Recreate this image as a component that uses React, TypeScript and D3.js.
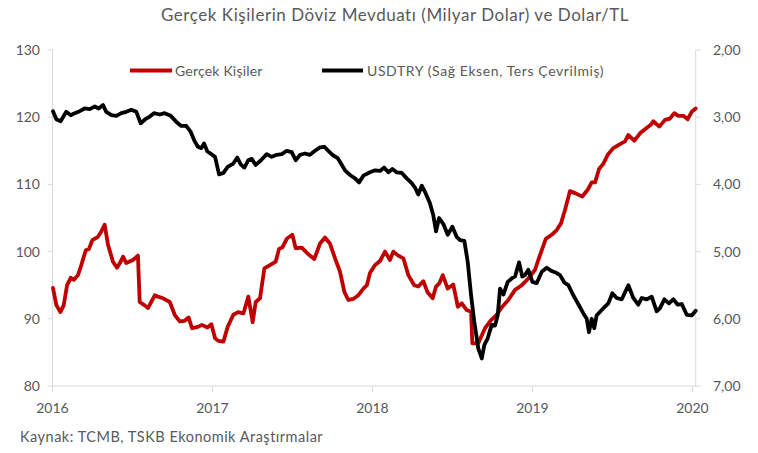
import React from "react";
import * as d3 from "d3";

const TITLE = "Gerçek Kişilerin Döviz Mevduatı (Milyar Dolar) ve Dolar/TL";
const SOURCE = "Kaynak: TCMB, TSKB Ekonomik Araştırmalar";
const SERIES_NAMES = ["Gerçek Kişiler", "USDTRY (Sağ Eksen, Ters Çevrilmiş)"];
const YEAR_TICKS = [2016, 2017, 2018, 2019, 2020];
const LEFT_TICKS = [80, 90, 100, 110, 120, 130];
const RIGHT_TICKS = [2, 3, 4, 5, 6, 7];

// Gerçek Kişiler döviz mevduatı (milyar $), decimal year
const depositDates = [
  2016.003, 2016.024, 2016.049, 2016.07, 2016.091, 2016.114, 2016.134, 2016.159, 2016.18, 2016.208,
  2016.228, 2016.249, 2016.284, 2016.305, 2016.326, 2016.347, 2016.378, 2016.403, 2016.426, 2016.441,
  2016.461, 2016.503, 2016.534, 2016.545, 2016.576, 2016.597, 2016.639, 2016.659, 2016.691, 2016.733,
  2016.764, 2016.795, 2016.826, 2016.851, 2016.872, 2016.909, 2016.934, 2016.968, 2016.993, 2017.016,
  2017.038, 2017.068, 2017.095, 2017.13, 2017.161, 2017.193, 2017.224, 2017.251, 2017.27, 2017.297,
  2017.324, 2017.359, 2017.395, 2017.416, 2017.436, 2017.464, 2017.499, 2017.52, 2017.558, 2017.599,
  2017.636, 2017.672, 2017.703, 2017.734, 2017.766, 2017.797, 2017.824, 2017.849, 2017.88, 2017.911,
  2017.943, 2017.965, 2017.984, 2018.016, 2018.047, 2018.078, 2018.109, 2018.13, 2018.161, 2018.193,
  2018.224, 2018.261, 2018.286, 2018.318, 2018.343, 2018.376, 2018.397, 2018.418, 2018.439, 2018.47,
  2018.505, 2018.533, 2018.558, 2018.589, 2018.616, 2018.624, 2018.661, 2018.703, 2018.741, 2018.776,
  2018.811, 2018.849, 2018.891, 2018.933, 2018.974, 2019.016, 2019.036, 2019.083, 2019.12, 2019.151,
  2019.178, 2019.203, 2019.234, 2019.266, 2019.311, 2019.345, 2019.37, 2019.391, 2019.416, 2019.443,
  2019.47, 2019.505, 2019.547, 2019.578, 2019.599, 2019.636, 2019.672, 2019.703, 2019.741, 2019.755,
  2019.793, 2019.828, 2019.859, 2019.886, 2019.911, 2019.943, 2019.97, 2019.995, 2020.02,
];
const depositValues = [
  94.6, 92.05, 91.0, 92.0, 95.0, 96.1, 95.8, 96.5, 98.0, 100.2,
  100.4, 101.7, 102.2, 103.0, 104.0, 101.0, 98.5, 97.6, 98.5, 99.25,
  98.3, 98.75, 99.4, 92.5, 92.0, 91.6, 93.5, 93.3, 93.05, 92.5,
  90.6, 89.6, 89.7, 90.2, 88.6, 88.8, 89.1, 88.7, 89.2, 87.1,
  86.7, 86.6, 88.8, 90.6, 91.0, 90.8, 93.3, 89.5, 92.5, 93.05,
  97.5, 98.0, 98.5, 100.4, 100.6, 101.9, 102.5, 100.5, 100.6, 99.6,
  98.9, 101.2, 102.1, 101.2, 99.0, 97.0, 94.0, 92.8, 92.95, 93.5,
  94.5, 95.0, 96.8, 98.0, 98.6, 100.0, 98.75, 100.0, 99.4, 99.0,
  96.5, 95.0, 94.8, 95.6, 94.0, 93.05, 94.8, 95.3, 96.5, 94.5,
  95.1, 91.8, 92.3, 91.3, 91.05, 86.35, 86.35, 88.6, 89.8, 90.6,
  91.8, 92.8, 94.3, 95.0, 96.0, 97.3, 98.75, 101.9, 102.5, 103.2,
  104.2, 106.2, 109.0, 108.7, 108.2, 109.2, 110.3, 110.3, 112.3, 113.1,
  114.4, 115.4, 116.0, 116.4, 117.35, 116.5, 117.6, 118.2, 118.9, 119.4,
  118.6, 119.6, 119.8, 120.6, 120.2, 120.2, 119.7, 120.8, 121.3,
];

// USDTRY, decimal year
const usdDates = [
  2016.003, 2016.024, 2016.051, 2016.086, 2016.114, 2016.139, 2016.17, 2016.201, 2016.233, 2016.264,
  2016.289, 2016.316, 2016.336, 2016.368, 2016.399, 2016.43, 2016.461, 2016.493, 2016.524, 2016.551,
  2016.58, 2016.608, 2016.634, 2016.67, 2016.701, 2016.739, 2016.774, 2016.805, 2016.836, 2016.864,
  2016.889, 2016.909, 2016.93, 2016.947, 2016.968, 2016.993, 2017.016, 2017.041, 2017.068, 2017.095,
  2017.13, 2017.155, 2017.176, 2017.199, 2017.224, 2017.245, 2017.27, 2017.303, 2017.339, 2017.37,
  2017.401, 2017.433, 2017.464, 2017.495, 2017.52, 2017.547, 2017.578, 2017.609, 2017.641, 2017.672,
  2017.699, 2017.724, 2017.755, 2017.783, 2017.803, 2017.828, 2017.859, 2017.891, 2017.916, 2017.943,
  2017.984, 2018.016, 2018.047, 2018.072, 2018.099, 2018.124, 2018.151, 2018.183, 2018.214, 2018.245,
  2018.266, 2018.286, 2018.308, 2018.328, 2018.359, 2018.38, 2018.397, 2018.416, 2018.443, 2018.47,
  2018.499, 2018.526, 2018.547, 2018.574, 2018.595, 2018.616, 2018.636, 2018.661, 2018.683, 2018.699,
  2018.72, 2018.745, 2018.766, 2018.783, 2018.797, 2018.818, 2018.845, 2018.87, 2018.891, 2018.916,
  2018.936, 2018.953, 2018.974, 2018.999, 2019.026, 2019.058, 2019.089, 2019.12, 2019.151, 2019.172,
  2019.199, 2019.224, 2019.255, 2019.286, 2019.318, 2019.339, 2019.353, 2019.37, 2019.386, 2019.401,
  2019.428, 2019.453, 2019.474, 2019.499, 2019.526, 2019.558, 2019.599, 2019.63, 2019.661, 2019.683,
  2019.714, 2019.745, 2019.776, 2019.797, 2019.824, 2019.853, 2019.88, 2019.908, 2019.933, 2019.964,
  2019.995, 2020.02,
];
const usdValues = [
  2.91, 3.03, 3.06, 2.92, 2.97, 2.94, 2.91, 2.87, 2.88, 2.84,
  2.87, 2.82, 2.92, 2.97, 2.98, 2.94, 2.92, 2.89, 2.92, 3.09,
  3.03, 2.99, 2.94, 2.96, 2.94, 2.98, 3.07, 3.13, 3.13, 3.22,
  3.36, 3.44, 3.46, 3.39, 3.51, 3.55, 3.59, 3.85, 3.83, 3.74,
  3.69, 3.6, 3.7, 3.75, 3.64, 3.62, 3.71, 3.64, 3.55, 3.59,
  3.56, 3.55, 3.5, 3.52, 3.64, 3.56, 3.54, 3.56, 3.5, 3.45,
  3.44, 3.5, 3.57, 3.61, 3.69, 3.79, 3.86, 3.91, 3.97, 3.87,
  3.82, 3.79, 3.8, 3.75, 3.82, 3.77, 3.82, 3.83, 3.91, 3.98,
  4.05, 4.15, 4.02, 4.11, 4.28, 4.46, 4.7, 4.5, 4.59, 4.75,
  4.63, 4.78, 4.83, 4.84, 5.15, 5.65, 6.04, 6.44, 6.59, 6.39,
  6.29, 6.09, 6.1, 5.94, 5.55, 5.64, 5.45, 5.4, 5.37, 5.16,
  5.37, 5.35, 5.27, 5.45, 5.47, 5.3, 5.24, 5.29, 5.32, 5.35,
  5.46, 5.5, 5.65, 5.78, 5.92, 6.0, 6.2, 6.0, 6.14, 5.95,
  5.88, 5.82, 5.77, 5.62, 5.69, 5.71, 5.5, 5.69, 5.79, 5.69,
  5.71, 5.67, 5.89, 5.84, 5.71, 5.77, 5.71, 5.79, 5.78, 5.94,
  5.95, 5.88,
];

const W = 758;
const H = 453;
const FONT = "Lato, 'Open Sans', sans-serif";
const TEXT = "#595959";
const AXIS = "#D9D9D9";
const RED = "#C00000";

export default function App() {
  const x = d3.scaleLinear().domain([2016, 2020]).range([52.5, 692.5]);
  const yL = d3.scaleLinear().domain([80, 130]).range([386, 50]);
  const yR = d3.scaleLinear().domain([2, 7]).range([50, 386]);

  const depositData = depositDates.map((d, i) => [d, depositValues[i]] as [number, number]);
  const usdData = usdDates.map((d, i) => [d, usdValues[i]] as [number, number]);

  const lineL = d3.line<[number, number]>().x((d) => x(d[0])).y((d) => yL(d[1]));
  const lineR = d3.line<[number, number]>().x((d) => x(d[0])).y((d) => yR(d[1]));

  const xLeft = 52.5;
  const xRight = x(2020.02);
  const yBottom = yL(80);

  return (
    <svg
      width={W}
      height={H}
      style={{ position: "absolute", left: 0, top: 0, background: "#fff" }}
      fontFamily={FONT}
    >
      <rect x={0} y={0} width={W} height={H} fill="#fff" />
      <text x={395} y={21} textAnchor="middle" fontSize={17} letterSpacing={0.55} fill={TEXT}>
        {TITLE}
      </text>

      {/* legend */}
      <line x1={130} x2={172} y1={70.5} y2={70.5} stroke={RED} strokeWidth={4} />
      <text x={175} y={75.5} fontSize={14} letterSpacing={0.2} fill={TEXT}>
        {SERIES_NAMES[0]}
      </text>
      <line x1={322} x2={363} y1={70.5} y2={70.5} stroke="#000" strokeWidth={4} />
      <text x={367} y={75.5} fontSize={14} letterSpacing={0.6} fill={TEXT}>
        {SERIES_NAMES[1]}
      </text>

      {/* axes */}
      <line x1={xLeft} x2={xLeft} y1={yL(130)} y2={yBottom + 6} stroke={AXIS} strokeWidth={1} />
      <line x1={xRight} x2={xRight} y1={yR(2)} y2={yBottom} stroke={AXIS} strokeWidth={1} />
      <line x1={xLeft} x2={xRight} y1={yBottom} y2={yBottom} stroke={AXIS} strokeWidth={1} />

      {LEFT_TICKS.map((t) => (
        <g key={"l" + t}>
          <line x1={xLeft - 5} x2={xLeft} y1={yL(t)} y2={yL(t)} stroke={AXIS} />
          <text x={40} y={yL(t) + 5} textAnchor="end" fontSize={14} fill={TEXT}>
            {t}
          </text>
        </g>
      ))}
      {RIGHT_TICKS.map((t) => (
        <g key={"r" + t}>
          <line x1={xRight} x2={xRight + 5} y1={yR(t)} y2={yR(t)} stroke={AXIS} />
          <text x={713} y={yR(t) + 5} textAnchor="start" fontSize={14} fill={TEXT}>
            {d3.format(".2f")(t).replace(".", ",")}
          </text>
        </g>
      ))}
      {YEAR_TICKS.map((t) => (
        <g key={"x" + t}>
          <line x1={x(t)} x2={x(t)} y1={yBottom} y2={yBottom + 6} stroke={AXIS} />
          <text x={x(t)} y={413} textAnchor="middle" fontSize={14} fill={TEXT}>
            {t}
          </text>
        </g>
      ))}

      {/* series */}
      <path
        d={lineL(depositData) || ""}
        fill="none"
        stroke={RED}
        strokeWidth={3.8}
        strokeLinejoin="round"
        strokeLinecap="round"
      />
      <path
        d={lineR(usdData) || ""}
        fill="none"
        stroke="#000"
        strokeWidth={3.8}
        strokeLinejoin="round"
        strokeLinecap="round"
      />

      <text x={20} y={442} fontSize={14.5} letterSpacing={0.5} fill={TEXT}>
        {SOURCE}
      </text>
    </svg>
  );
}
